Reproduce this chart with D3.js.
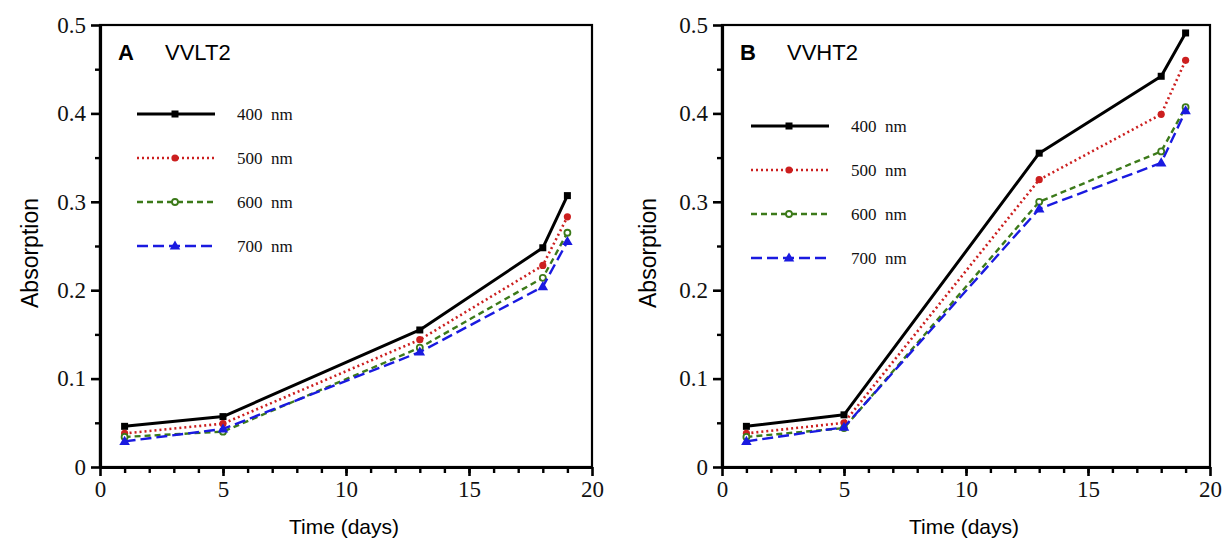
<!DOCTYPE html>
<html>
<head>
<meta charset="utf-8">
<script src="https://cdn.jsdelivr.net/npm/d3@7"></script>
<style>
  body { margin: 0; background: #fff; }
  svg { display: block; }
  .tick text { font-family: "Liberation Serif", "Times New Roman", serif; font-size: 23px; fill: #111; }
  .axis path, .axis line { stroke: #000; }
  .ttl { font-family: "Liberation Sans", Arial, sans-serif; fill: #000; }
  .leg { font-family: "Liberation Serif", "Times New Roman", serif; font-size: 17px; fill: #111; white-space: pre; }
</style>
</head>
<body>
<svg id="chart" width="1222" height="540"></svg>
<script>
// days sampled
const days = [1, 5, 13, 18, 19];
const seriesNames = ["400 nm", "500 nm", "600 nm", "700 nm"];
const xTicks = [0, 5, 10, 15, 20];
const yTicks = [0, 0.1, 0.2, 0.3, 0.4, 0.5];

// panel A  VVLT2
const vvlt2_400 = [0.046, 0.057, 0.155, 0.248, 0.307];
const vvlt2_500 = [0.038, 0.049, 0.144, 0.228, 0.283];
const vvlt2_600 = [0.034, 0.040, 0.135, 0.214, 0.265];
const vvlt2_700 = [0.029, 0.043, 0.130, 0.204, 0.255];

// panel B  VVHT2
const vvht2_400 = [0.046, 0.059, 0.355, 0.442, 0.491];
const vvht2_500 = [0.038, 0.050, 0.325, 0.399, 0.460];
const vvht2_600 = [0.034, 0.044, 0.300, 0.357, 0.407];
const vvht2_700 = [0.029, 0.045, 0.292, 0.344, 0.403];

const styles = [
  {color: "#000000", dash: null,   width: 3,   mark: "square"},
  {color: "#cc1f1f", dash: "2,3",  width: 2.6, mark: "dot"},
  {color: "#3c7a1a", dash: "6,4",  width: 2.4, mark: "ring"},
  {color: "#1a1ae0", dash: "11,5", width: 2.4, mark: "tri"}
];

const svg = d3.select("#chart");

panel({left: 100, right: 592, top: 25, bottom: 467, letter: "A", name: "VVLT2",
  data: [vvlt2_400, vvlt2_500, vvlt2_600, vvlt2_700], legX: 137, legY: 114, ylabX: 30});
panel({left: 722, right: 1210, top: 25, bottom: 467, letter: "B", name: "VVHT2",
  data: [vvht2_400, vvht2_500, vvht2_600, vvht2_700], legX: 751, legY: 126, ylabX: 648});

function marker(g, type, cx, cy, color) {
  if (type === "square") {
    g.append("rect").attr("x", cx - 3.5).attr("y", cy - 3.5).attr("width", 7).attr("height", 7).attr("fill", color);
  } else if (type === "dot") {
    g.append("circle").attr("cx", cx).attr("cy", cy).attr("r", 3.6).attr("fill", color);
  } else if (type === "ring") {
    g.append("circle").attr("cx", cx).attr("cy", cy).attr("r", 3)
      .attr("fill", "#fff").attr("stroke", color).attr("stroke-width", 1.8);
  } else {
    g.append("path").attr("d", d3.symbol(d3.symbolTriangle, 48)())
      .attr("transform", "translate(" + cx + "," + (cy + 0.5) + ")").attr("fill", color);
  }
}

function panel(p) {
  const x = d3.scaleLinear().domain([0, 20]).range([p.left, p.right]);
  const y = d3.scaleLinear().domain([0, 0.5]).range([p.bottom, p.top]);
  const g = svg.append("g");

  // frame
  g.append("rect")
    .attr("x", p.left).attr("y", p.top)
    .attr("width", p.right - p.left).attr("height", p.bottom - p.top)
    .attr("fill", "none").attr("stroke", "#000").attr("stroke-width", 2.2);

  // minor ticks
  g.append("g").attr("class", "axis")
    .attr("transform", "translate(0," + p.bottom + ")")
    .call(d3.axisBottom(x).tickValues(d3.range(1, 20)).tickSize(6).tickFormat(""))
    .call(a => a.select(".domain").remove())
    .selectAll("line").attr("stroke-width", 2.4);
  g.append("g").attr("class", "axis")
    .attr("transform", "translate(" + p.left + ",0)")
    .call(d3.axisLeft(y).tickValues([0.05, 0.15, 0.25, 0.35, 0.45]).tickSize(5).tickFormat(""))
    .call(a => a.select(".domain").remove())
    .selectAll("line").attr("stroke-width", 2.4);

  // major axes
  const xa = g.append("g").attr("class", "axis")
    .attr("transform", "translate(0," + p.bottom + ")")
    .call(d3.axisBottom(x).tickValues(xTicks).tickSize(9).tickPadding(5).tickSizeOuter(0));
  xa.select(".domain").attr("stroke-width", 3.2);
  xa.selectAll("line").attr("stroke-width", 2.6);

  const ya = g.append("g").attr("class", "axis")
    .attr("transform", "translate(" + p.left + ",0)")
    .call(d3.axisLeft(y).tickValues(yTicks).tickSize(9).tickPadding(5).tickSizeOuter(0)
      .tickFormat(d => d === 0 ? "0" : d3.format(".1f")(d)));
  ya.select(".domain").attr("stroke-width", 3.2);
  ya.selectAll("line").attr("stroke-width", 2.6);

  // axis titles
  g.append("text").attr("class", "ttl")
    .attr("x", (p.left + p.right) / 2 - 2).attr("y", p.bottom + 67)
    .attr("text-anchor", "middle").attr("font-size", 21)
    .text("Time (days)");
  g.append("text").attr("class", "ttl")
    .attr("transform", "translate(" + (p.ylabX + 8) + "," + ((p.top + p.bottom) / 2 + 7) + ") rotate(-90)")
    .attr("text-anchor", "middle").attr("font-size", 23)
    .text("Absorption");

  // panel label
  g.append("text").attr("class", "ttl")
    .attr("x", p.left + 18).attr("y", p.top + 35)
    .attr("font-size", 22).attr("font-weight", "bold")
    .text(p.letter);
  g.append("text").attr("class", "ttl")
    .attr("x", p.left + 65).attr("y", p.top + 35)
    .attr("font-size", 22)
    .text(p.name);

  // series
  const line = d3.line().x((d, i) => x(days[i])).y(d => y(d));
  p.data.forEach((vals, k) => {
    const s = styles[k];
    g.append("path").datum(vals)
      .attr("d", line)
      .attr("fill", "none")
      .attr("stroke", s.color)
      .attr("stroke-width", s.width)
      .attr("stroke-dasharray", s.dash)
      .attr("stroke-linejoin", "round");
    vals.forEach((v, i) => marker(g, s.mark, x(days[i]), y(v), s.color));

    // legend row
    const ly = p.legY + k * 44;
    g.append("line")
      .attr("x1", p.legX).attr("x2", p.legX + 78)
      .attr("y1", ly).attr("y2", ly)
      .attr("stroke", s.color).attr("stroke-width", s.width)
      .attr("stroke-dasharray", s.dash);
    marker(g, s.mark, p.legX + 38, ly, s.color);
    g.append("text").attr("class", "leg")
      .attr("x", p.legX + 100).attr("y", ly + 6)
      .text(seriesNames[k].replace(" ", "  "));
  });
}
</script>
</body>
</html>
